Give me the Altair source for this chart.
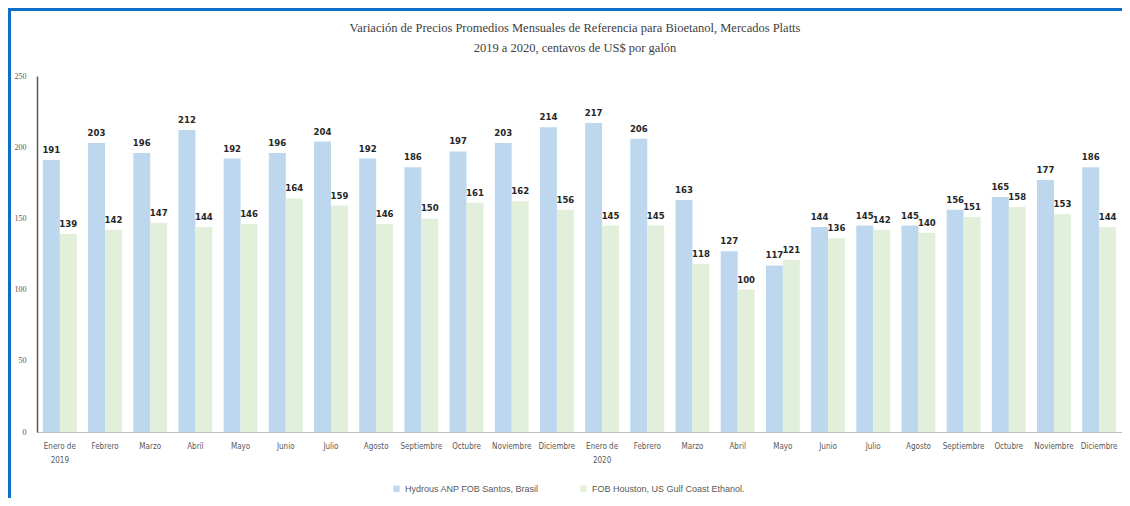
import altair as alt
import pandas as pd

title_lines = ["Variación de Precios Promedios Mensuales de Referencia para Bioetanol, Mercados Platts",
               "2019 a 2020, centavos de US$ por galón"]
tick_labels = ["Enero de|2019", "Febrero", "Marzo", "Abril", "Mayo", "Junio", "Julio",
               "Agosto", "Septiembre", "Octubre", "Noviembre", "Diciembre",
               "Enero de|2020", "Febrero", "Marzo", "Abril", "Mayo", "Junio", "Julio",
               "Agosto", "Septiembre", "Octubre", "Noviembre", "Diciembre"]
series_names = ["Hydrous ANP FOB Santos, Brasil", "FOB Houston, US Gulf Coast Ethanol."]
santos = [191, 203, 196, 212, 192, 196, 204, 192, 186, 197, 203, 214,
          217, 206, 163, 127, 117, 144, 145, 145, 156, 165, 177, 186]
houston = [139, 142, 147, 144, 146, 164, 159, 146, 150, 161, 162, 156,
           145, 145, 118, 100, 121, 136, 142, 140, 151, 158, 153, 144]
colors = ["#BDD7EE", "#E2EFDA"]

rows = []
for i in range(len(tick_labels)):
    rows.append({"idx": i, "series": series_names[0], "value": santos[i]})
    rows.append({"idx": i, "series": series_names[1], "value": houston[i]})
df = pd.DataFrame(rows)

narrow = "Liberation Sans Narrow, Arial Narrow, DejaVu Sans Condensed, Roboto Condensed, sans-serif"
label_array = "[" + ",".join("'" + t + "'" for t in tick_labels) + "]"

W, H = 1085, 356

x_enc = alt.X("idx:O",
              scale=alt.Scale(paddingInner=0.25, paddingOuter=0.13),
              axis=alt.Axis(title=None, labelAngle=0, ticks=False,
                            labelExpr="split(" + label_array + "[datum.value], '|')",
                            labelFontSize=8, labelColor="#595959", labelFont=narrow,
                            labelPadding=10, labelLineHeight=14,
                            domainColor="#BFBFBF", domainWidth=1))
xoff = alt.XOffset("series:N", sort=series_names, scale=alt.Scale(paddingInner=0, paddingOuter=0))
y_enc = alt.Y("value:Q", scale=alt.Scale(domain=[0, 250]),
              axis=alt.Axis(title=None, values=[0, 50, 100, 150, 200, 250], grid=False,
                            ticks=False, labelPadding=11, labelFontSize=8,
                            labelColor="#595959", labelFont="Liberation Serif",
                            domainColor="#595959", domainWidth=1.5))

base = alt.Chart(df)
bars = base.mark_bar().encode(
    x=x_enc, xOffset=xoff, y=y_enc,
    color=alt.Color("series:N", sort=series_names,
                    scale=alt.Scale(domain=series_names, range=colors),
                    legend=alt.Legend(title=None, orient="none", direction="horizontal",
                                      legendX=355, legendY=408, symbolType="square",
                                      symbolSize=40, labelFontSize=9, labelColor="#595959",
                                      labelFont="Liberation Sans", columnPadding=40,
                                      symbolStrokeWidth=0)),
)
text = base.mark_text(baseline="bottom", dy=-5, fontSize=9.5, fontWeight="bold",
                      font=narrow, color="#262626").encode(
    x=x_enc, xOffset=xoff, y=y_enc, text=alt.Text("value:Q"))

title_df = pd.DataFrame({"t": title_lines, "row": [0, 1]})
title1 = alt.Chart(title_df).transform_filter("datum.row == 0").mark_text(
    font="Liberation Serif", fontSize=12.5, color="#404040", baseline="middle", align="center"
).encode(text="t:N", x=alt.value(538), y=alt.value(-48))
title2 = alt.Chart(title_df).transform_filter("datum.row == 1").mark_text(
    font="Liberation Serif", fontSize=12.5, color="#404040", baseline="middle", align="center"
).encode(text="t:N", x=alt.value(538), y=alt.value(-28))

border_df = pd.DataFrame({"k": [0]})
top_border = alt.Chart(border_df).mark_rule(color="#0F6FC6", strokeWidth=3).encode(
    x=alt.value(-29), x2=alt.value(W), y=alt.value(-66.5))
left_border = alt.Chart(border_df).mark_rule(color="#0F6FC6", strokeWidth=3).encode(
    x=alt.value(-27.5), y=alt.value(-68), y2=alt.value(430))

chart = alt.layer(bars, text, title1, title2, top_border, left_border).properties(
    width=W, height=H,
    autosize=alt.AutoSizeParams(type="none"),
    padding={"left": 29, "top": 68, "right": 0, "bottom": 66},
).configure(background="white", view=alt.ViewConfig(stroke=None))

chart.save("out.html", embed_options={"renderer": "svg", "actions": False})
